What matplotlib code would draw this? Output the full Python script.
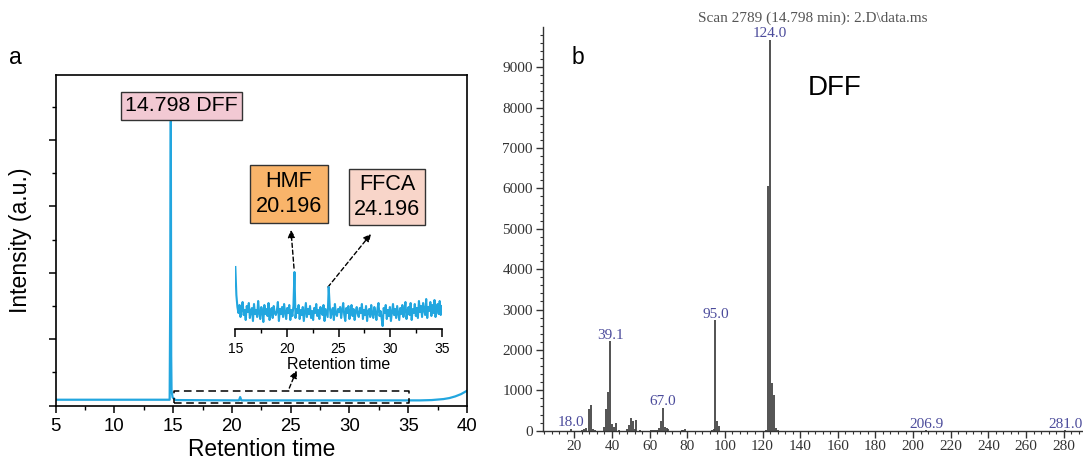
import numpy as np
import matplotlib
matplotlib.use("Agg")
import matplotlib.pyplot as plt
from matplotlib.ticker import MultipleLocator

plt.rcParams["font.family"] = ["Liberation Sans", "DejaVu Sans"]

# ---- panel a: chromatogram (main trace) ----
RT = [5.0, 14.70, 14.76, 14.798, 14.83, 14.86, 14.95, 15.2, 20.6, 20.7, 20.8,
      36.0, 37.0, 38.0, 38.5, 39.0, 39.5, 40.0]
INT = [0.18, 0.18, 4.0, 8.56, 1.5, 0.45, 0.25, 0.17, 0.16, 0.26, 0.16,
       0.16, 0.17, 0.20, 0.23, 0.28, 0.35, 0.45]
TRACE_COLOR = "#22a6df"

# inset: zoomed 15-35 min region (values in arbitrary inset units)
INSET_RT0, INSET_RT1 = 15.0, 35.0
INSET_INT = [
    62, 34, 22, 16, 24, 12, 20, 27, 14, 19, 9, 23, 17, 26, 11, 18, 21, 8, 25, 15,
    19, 12, 28, 16, 10, 22, 18, 7, 24, 15, 20, 13, 26, 9, 17, 21, 11, 23, 16, 14,
    18, 27, 8, 20, 15, 22, 12, 25, 17, 10, 21, 16, 24, 9, 19, 13, 23, 57, 11, 20,
    16, 24, 10, 19, 14, 22, 8, 17, 26, 12, 20, 15, 23, 11, 18, 9, 21, 16, 25, 13,
    19, 10, 22, 17, 14, 24, 8, 20, 16, 12, 42, 23, 11, 18, 21, 9, 25, 15, 13, 20,
    17, 22, 11, 19, 26, 14, 8, 21, 16, 23, 10, 18, 24, 13, 20, 9, 17, 22, 15, 12,
    21, 16, 25, 10, 19, 14, 23, 8, 18, 20, 12, 24, 15, 11, 22, 17, 9, 20, 26, 13,
    18, 11, 3, 21, 16, 24, 10, 19, 13, 22, 8, 17, 25, 14, 20, 11, 23, 16, 9, 21,
    15, 24, 12, 19, 27, 10, 18, 22, 14, 26, 9, 20, 16, 25, 13, 21, 11, 28, 17, 23,
    12, 26, 19, 14, 30, 11, 22, 18, 27, 13, 24, 16, 29, 12, 21, 25, 15, 28, 14, 23,
]

# ---- panel b: mass spectrum ----
MZ = [18, 24, 25, 26, 28, 29, 30, 31, 36, 37, 38, 39, 40, 41, 42, 44, 48, 49, 50,
      51, 52, 53, 55, 61, 62, 63, 64, 65, 66, 67, 68, 69, 70, 77, 78, 79, 93, 94,
      95, 96, 97, 122, 123, 124, 125, 126, 127, 128, 206.9, 281.0]
ABUND = [40, 20, 40, 55, 545, 630, 40, 20, 80, 525, 965, 2210, 175, 100, 195, 15,
         40, 130, 305, 240, 30, 275, 20, 15, 15, 20, 25, 60, 240, 560, 100, 70, 30,
         15, 20, 35, 25, 40, 2730, 235, 110, 20, 6060, 9680, 1170, 880, 55, 15, 8, 8]
PEAK_LABELS = ["18.0", "39.1", "67.0", "95.0", "124.0", "206.9", "281.0"]
PEAK_MZ = [18, 39, 67, 95, 124, 206.9, 281.0]

fig = plt.figure(figsize=(10.83, 4.59), dpi=100)

# ---------------- panel a ----------------
ax = fig.add_axes([0.0514, 0.1161, 0.3798, 0.7211])
ax.plot(RT, INT, color=TRACE_COLOR, lw=1.6)
ax.set_xlim(5, 40)
ax.set_ylim(0, 9.96)
ax.xaxis.set_major_locator(MultipleLocator(5))
ax.xaxis.set_minor_locator(MultipleLocator(2.5))
ax.yaxis.set_major_locator(MultipleLocator(2))
ax.yaxis.set_minor_locator(MultipleLocator(1))
ax.set_yticklabels([])
ax.tick_params(axis="both", which="major", direction="out", length=5, width=1.1,
               labelsize=13.4, pad=4)
ax.tick_params(axis="both", which="minor", direction="out", length=3, width=1.0)
for s in ax.spines.values():
    s.set_linewidth(1.2)
ax.set_xlabel("Retention time", fontsize=16.4, labelpad=2)
ax.set_ylabel("Intensity (a.u.)", fontsize=16.6, labelpad=8)

# dashed zoom box and arrow to inset
ax.plot([15.03, 35.08, 35.08, 15.03, 15.03], [0.08, 0.08, 0.45, 0.45, 0.08],
        color="k", lw=1.1, ls=(0, (5, 3)))
ax.annotate("", xy=(25.5, 1.06), xytext=(24.88, 0.53),
            arrowprops=dict(arrowstyle="-|>", color="k", lw=1.0, ls=(0, (3, 2)),
                            mutation_scale=11, shrinkA=0, shrinkB=0))

ax.text(15.72, 9.02, "14.798 DFF", fontsize=15.4, ha="center", va="center",
        bbox=dict(boxstyle="square,pad=0.2", fc="#f2c9d3", ec="#333333", lw=1.0))
ax.text(24.85, 6.37, "HMF\n20.196", fontsize=15.6, ha="center", va="center",
        linespacing=1.25,
        bbox=dict(boxstyle="square,pad=0.28", fc="#f9b46a", ec="#333333", lw=1.0))
ax.text(33.19, 6.28, "FFCA\n24.196", fontsize=15.6, ha="center", va="center",
        linespacing=1.25,
        bbox=dict(boxstyle="square,pad=0.22", fc="#f8d5c9", ec="#333333", lw=1.0))
ax.annotate("", xy=(25.02, 5.29), xytext=(25.28, 4.14),
            arrowprops=dict(arrowstyle="-|>", color="k", lw=1.0, ls=(0, (3, 2)),
                            mutation_scale=11, shrinkA=0, shrinkB=0))
ax.annotate("", xy=(31.83, 5.17), xytext=(28.17, 3.57),
            arrowprops=dict(arrowstyle="-|>", color="k", lw=1.0, ls=(0, (3, 2)),
                            mutation_scale=11, shrinkA=0, shrinkB=0))

# inset
axi = fig.add_axes([0.2173, 0.2832, 0.1906, 0.1503])
inset_rt = np.linspace(INSET_RT0, INSET_RT1, len(INSET_INT))
axi.plot(inset_rt, INSET_INT, color=TRACE_COLOR, lw=1.5)
axi.set_xlim(15, 35)
axi.set_ylim(0, 69)
axi.patch.set_alpha(0)
for k in ("left", "top", "right"):
    axi.spines[k].set_visible(False)
axi.spines["bottom"].set_linewidth(1.2)
axi.set_yticks([])
axi.xaxis.set_major_locator(MultipleLocator(5))
axi.xaxis.set_minor_locator(MultipleLocator(2.5))
axi.tick_params(axis="x", which="major", length=6, width=1.1, labelsize=10, pad=3)
axi.tick_params(axis="x", which="minor", length=3, width=1.0)
axi.set_xlabel("Retention time", fontsize=11.5, labelpad=1)

fig.text(15 / 1083, 1 - 57 / 459, "a", fontsize=16.5, ha="center", va="center")

# ---------------- panel b ----------------
serif = ["Liberation Serif", "DejaVu Serif"]
bx = fig.add_axes([0.5011, 0.0617, 0.4989, 0.8789])
bx.vlines(MZ, 0, ABUND, color="#444444", lw=1.3)
bx.set_xlim(3.2, 290.3)
bx.set_ylim(0, 9990)
for k in ("top", "right"):
    bx.spines[k].set_visible(False)
for k in ("left", "bottom"):
    bx.spines[k].set_linewidth(1.0)
    bx.spines[k].set_color("#333333")
bx.xaxis.set_major_locator(MultipleLocator(20))
bx.xaxis.set_minor_locator(MultipleLocator(4))
bx.yaxis.set_major_locator(MultipleLocator(1000))
bx.yaxis.set_minor_locator(MultipleLocator(200))
bx.tick_params(axis="both", which="major", direction="out", length=5, width=1.0,
               color="#333333", labelcolor="#333333", labelsize=11, pad=2)
bx.tick_params(axis="both", which="minor", direction="out", length=2.5, width=0.8,
               color="#333333")
for lab in bx.get_xticklabels() + bx.get_yticklabels():
    lab.set_family(serif)

abund_of = dict(zip(MZ, ABUND))
for lab, mz in zip(PEAK_LABELS, PEAK_MZ):
    bx.annotate(lab, xy=(mz, abund_of[mz]), xytext=(0, 2), textcoords="offset points",
                ha="center", va="baseline", fontsize=11, color="#4b4b9b",
                family=serif)

bx.text(158.5, 8487, "DFF", fontsize=20, ha="center", va="center")
fig.text(578 / 1083, 1 - 57 / 459, "b", fontsize=16.5, ha="center", va="center")
fig.text(813 / 1083, 1 - 18 / 459, "Scan 2789 (14.798 min): 2.D\\data.ms",
         fontsize=11, ha="center", va="center", color="#555555", family=serif)

fig.savefig("out.png", dpi=100)
